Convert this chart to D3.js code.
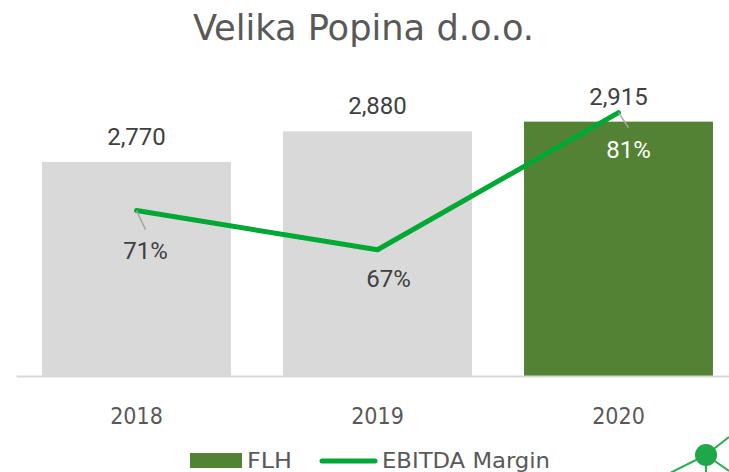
<!DOCTYPE html>
<html><head><meta charset="utf-8">
<script src="https://cdn.jsdelivr.net/npm/d3@7"></script>
<style>
html,body{margin:0;padding:0;background:#fff;}
svg{display:block;}
.cond{font-family:"Liberation Sans Narrow","DejaVu Sans Condensed","DejaVu Sans",sans-serif;font-stretch:condensed;}
.lbl{font-family:Roboto,"Noto Sans",sans-serif;}
</style>
</head><body>
<script>
const title = "Velika Popina d.o.o.";
const categories = ["2018", "2019", "2020"];
const flh = [2770, 2880, 2915];
const ebitdaMargin = [0.71, 0.67, 0.81];
const flhLabels = ["2,770", "2,880", "2,915"];
const marginLabels = ["71%", "67%", "81%"];
const legendLabels = ["FLH", "EBITDA Margin"];

const W = 729, H = 472;
const svg = d3.select("body").append("svg").attr("width", W).attr("height", H);

const x = d3.scaleBand().domain(categories).range([16, 739]).paddingInner(0.216).paddingOuter(0.108);
const y = d3.scaleLinear().domain([2000, 3000]).range([376, 98]);
const y2 = d3.scaleLinear().domain([0.541, 0.825]).range([376, 98]);

const barColor = (d, i) => i === categories.length - 1 ? "#548235" : "#d9d9d9";

// title
svg.append("text").attr("class", "cond").attr("x", 193).attr("y", 40)
  .attr("font-size", 36).attr("fill", "#595959")
  .attr("textLength", 341).attr("lengthAdjust", "spacingAndGlyphs").text(title);

// bars
svg.selectAll("rect.bar").data(flh).join("rect").attr("class", "bar")
  .attr("x", (d, i) => x(categories[i])).attr("width", x.bandwidth())
  .attr("y", d => y(d)).attr("height", d => y(2000) - y(d))
  .attr("fill", barColor);

// axis
const xAxis = svg.append("g").attr("transform", `translate(0,${y(2000)})`)
  .call(d3.axisBottom(x).tickSize(0).tickPadding(32));
xAxis.select(".domain").attr("stroke", "#d9d9d9").attr("stroke-width", 2);
xAxis.selectAll("text").attr("class", "cond").attr("font-size", 23).attr("fill", "#595959");

// bar labels
svg.selectAll("text.vl").data(flh).join("text").attr("class", "vl lbl")
  .attr("x", (d, i) => x(categories[i]) + x.bandwidth() / 2)
  .attr("y", d => y(d) - 17)
  .attr("text-anchor", "middle").attr("font-size", 24).attr("fill", "#404040")
  .text((d, i) => flhLabels[i]);

// line
const cx = i => x(categories[i]) + x.bandwidth() / 2;
const line = d3.line().x((d, i) => cx(i)).y(d => y2(d));
svg.append("path").datum(ebitdaMargin).attr("d", line)
  .attr("fill", "none").attr("stroke", "#00a933").attr("stroke-width", 5)
  .attr("stroke-linecap", "round").attr("stroke-linejoin", "round");

// leader lines + margin labels
const labelOff = [[9, 48], [11, 37], [10, 45]];
const leaders = [[9, 19], null, [10, 15]];
ebitdaMargin.forEach((d, i) => {
  if (leaders[i]) {
    svg.append("line").attr("x1", cx(i)).attr("y1", y2(d))
      .attr("x2", cx(i) + leaders[i][0]).attr("y2", y2(d) + leaders[i][1])
      .attr("stroke", "#a6a6a6").attr("stroke-width", 1.5);
  }
});
svg.selectAll("text.ml").data(ebitdaMargin).join("text").attr("class", "ml lbl")
  .attr("x", (d, i) => cx(i) + labelOff[i][0])
  .attr("y", (d, i) => y2(d) + labelOff[i][1])
  .attr("text-anchor", "middle").attr("font-size", 24)
  .attr("fill", (d, i) => i === categories.length - 1 ? "#ffffff" : "#404040")
  .text((d, i) => marginLabels[i]);

// legend
const lg = svg.append("g");
lg.append("rect").attr("x", 190).attr("y", 453).attr("width", 52).attr("height", 15).attr("fill", "#548235");
lg.append("text").attr("class", "cond").attr("x", 247).attr("y", 468).attr("font-size", 22).attr("fill", "#595959")
  .attr("textLength", 45).attr("lengthAdjust", "spacingAndGlyphs").text(legendLabels[0]);
lg.append("line").attr("x1", 322).attr("x2", 375).attr("y1", 461).attr("y2", 461)
  .attr("stroke", "#00a933").attr("stroke-width", 5).attr("stroke-linecap", "round");
lg.append("text").attr("class", "cond").attr("x", 382).attr("y", 468).attr("font-size", 22).attr("fill", "#595959")
  .attr("textLength", 168).attr("lengthAdjust", "spacingAndGlyphs").text(legendLabels[1]);

// corner logo decoration
const logo = svg.append("g").attr("stroke", "#27ae4f").attr("stroke-width", 2);
[[729, 437], [668, 474], [706, 474], [729, 471]].forEach(p =>
  logo.append("line").attr("x1", 706).attr("y1", 455).attr("x2", p[0]).attr("y2", p[1]));
logo.append("circle").attr("cx", 706).attr("cy", 455).attr("r", 11).attr("fill", "#1fa84a").attr("stroke", "none");
</script>
</body></html>
